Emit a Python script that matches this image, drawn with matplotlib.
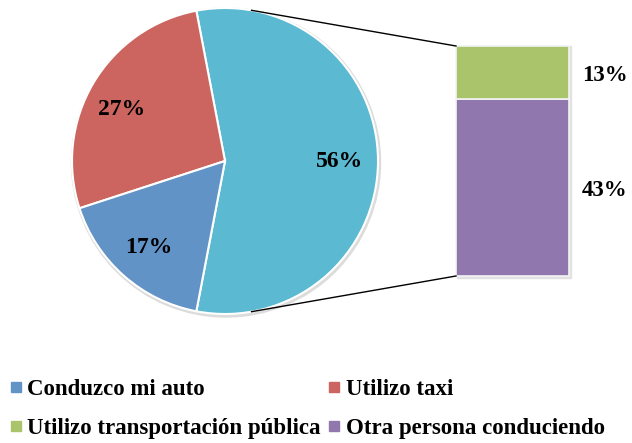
import matplotlib.pyplot as plt
from matplotlib.lines import Line2D
from matplotlib.patches import Circle, Rectangle
import numpy as np

plt.rcParams['font.family'] = ['Liberation Serif', 'DejaVu Serif']
plt.rcParams['font.weight'] = 'bold'

# pie: "otra" slice first (it is split out in the bar)
pie_labels = ["Otros", "Utilizo taxi", "Conduzco mi auto"]
pie_values = [56, 27, 17]
pie_colors = ["#5BB9D1", "#CC6560", "#6193C7"]

# bar: breakdown of the 56%
bar_labels = ["Otra persona conduciendo", "Utilizo transportación pública"]
bar_values = [43, 13]
bar_colors = ["#9078AF", "#AAC46C"]

legend_labels = ["Conduzco mi auto", "Utilizo transportación pública", "Utilizo taxi", "Otra persona conduciendo"]
legend_colors = ["#6193C7", "#AAC46C", "#CC6560", "#9078AF"]

W, H = 632, 443
fig = plt.figure(figsize=(W / 100, H / 100), dpi=100)
ax = fig.add_axes([0, 0, 1, 1])

cx, cy, r = 225, H - 161, 153
start = -pie_values[0] / sum(pie_values) * 180
# faint shadow like the original
ax.add_patch(Circle((cx + 1, cy - 1.5), r + 1.5, color='#dcdcdc', zorder=0))
wedges, texts, autotexts = ax.pie(pie_values, colors=pie_colors, startangle=start, center=(cx, cy), radius=r,
       autopct='%d%%', pctdistance=0.75,
       wedgeprops=dict(edgecolor='white', linewidth=1.5),
       textprops=dict(fontsize=17, fontweight='bold', color='black'))
# excel puts the taxi label a bit lower/left
x, y = autotexts[1].get_position()
autotexts[1].set_position((x - 5, y - 7))

# stacked bar
bx, bw, bb, bh = 512.5, 113, H - 276, 230
ax.add_patch(Rectangle((bx - bw / 2 + 1, bb - 2), bw + 1, bh + 2, color='#e2e2e2', zorder=0))
scale = bh / sum(bar_values)
bottom = bb
for v, c in zip(bar_values, bar_colors):
    ax.bar(bx, v * scale, width=bw, bottom=bottom, color=c, edgecolor='#f4f4f4', linewidth=1.2)
    ax.text(605, bottom + v * scale / 2 - 3, '%d%%' % v, ha='center', va='center',
            fontsize=16.5, fontweight='bold')
    bottom += v * scale

# connector lines
a = np.deg2rad(80)
ax.plot([cx + r * np.cos(a), bx - bw / 2], [cy + r * np.sin(a), bb + bh], color='black', lw=1)
ax.plot([cx + r * np.cos(a), bx - bw / 2], [cy - r * np.sin(a), bb], color='black', lw=1)

ax.set_xlim(0, W)
ax.set_ylim(0, H)
ax.set_aspect('equal')
ax.axis('off')

handles = [Line2D([], [], marker='s', ls='', color=c, markersize=6.5) for c in legend_colors]
fig.legend(handles, legend_labels, ncol=2, loc='upper left', bbox_to_anchor=(11 / W, 1 - 379 / H),
           frameon=False, fontsize=16.5, handlelength=0.4, handletextpad=0.3,
           columnspacing=0.4, labelspacing=0.8, borderaxespad=0, borderpad=0)

fig.savefig('out.png', dpi=100)
